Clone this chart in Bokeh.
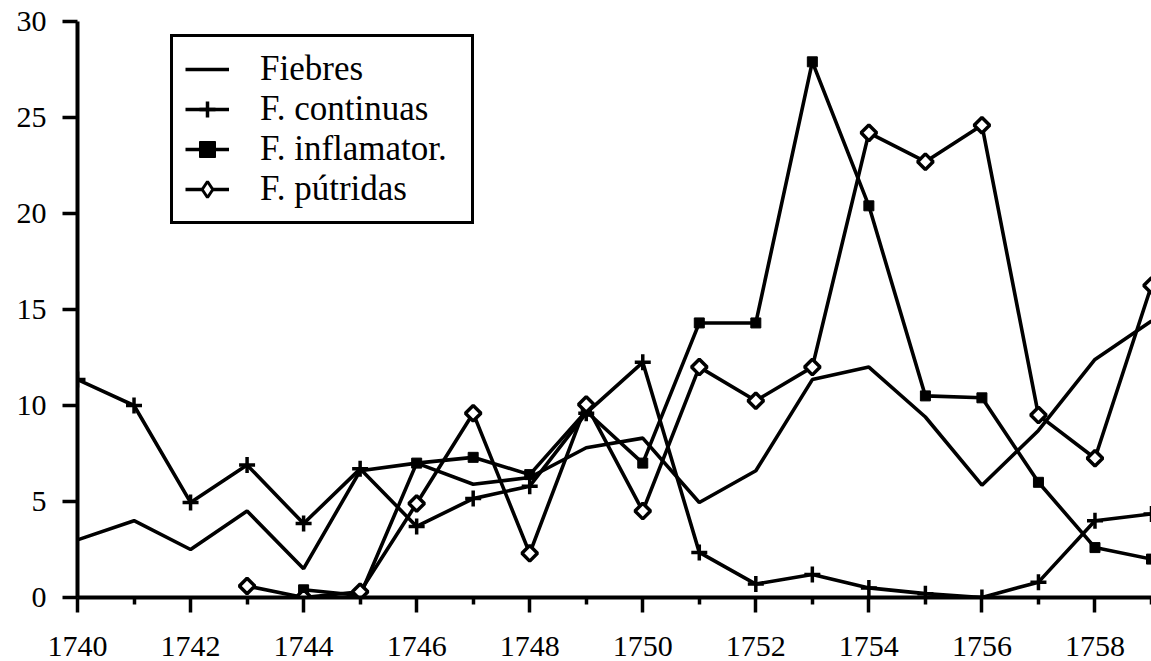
import math
from bokeh.plotting import figure
from bokeh.models import FixedTicker, Legend, LegendItem, Range1d
from bokeh.embed import file_html
from bokeh.resources import INLINE

# ---- data ----
years = list(range(1740, 1760))
fiebres = [3.0, 4.0, 2.5, 4.5, 1.5, 6.6, 7.0, 5.9, 6.25, 7.8,
           8.3, 4.95, 6.6, 11.35, 12.0, 9.4, 5.85, 8.7, 12.4, 14.4]
continuas = [11.35, 10.0, 4.95, 6.9, 3.85, 6.7, 3.7, 5.15, 5.8, 9.6,
             12.25, 2.35, 0.7, 1.2, 0.5, 0.2, 0.0, 0.8, 4.0, 4.35]
inflam_years = list(range(1744, 1760))
inflamator = [0.4, 0.1, 7.0, 7.3, 6.4, 9.7, 7.0, 14.3, 14.3, 27.9,
              20.4, 10.5, 10.4, 6.0, 2.6, 2.0]
putr_years = list(range(1743, 1760))
putridas = [0.6, 0.0, 0.3, 4.9, 9.6, 2.3, 10.05, 4.5, 12.0, 10.25,
            12.0, 24.2, 22.7, 24.6, 9.5, 7.25, 16.25]

x_major = list(range(1740, 1760, 2))
x_minor = list(range(1741, 1760, 2))
y_ticks = [0, 5, 10, 15, 20, 25, 30]

labels = ["Fiebres", "F. continuas", "F. inflamator.", "F. pútridas"]

FONT = "Liberation Serif"

p = figure(width=1151, height=661, output_backend="svg", toolbar_location=None,
           x_range=Range1d(1740, 1759), y_range=Range1d(0, 30),
           min_border_left=77, min_border_right=0, min_border_top=21,
           min_border_bottom=64)
p.outline_line_color = None
p.xgrid.visible = False
p.ygrid.visible = False
p.background_fill_color = "white"
p.border_fill_color = "white"

LW = 3.6
r1 = p.line(years, fiebres, line_color="black", line_width=LW)
r2 = p.line(years, continuas, line_color="black", line_width=LW)
m2 = p.scatter(years, continuas, marker="cross", size=16, line_color="black", line_width=3.5)
r3 = p.line(inflam_years, inflamator, line_color="black", line_width=LW)
m3 = p.scatter(inflam_years, inflamator, marker="square", size=10, fill_color="black",
               line_color="black", line_width=1)
r4 = p.line(putr_years, putridas, line_color="black", line_width=LW)
m4 = p.scatter(putr_years, putridas, marker="square", size=11, angle=math.pi / 4,
               fill_color="white", line_color="black", line_width=3.5)
# same points, drawn only as the legend's diamond sample
m4_leg = p.scatter(putr_years, putridas, marker="diamond", size=15,
                   fill_color="white", line_color="black", line_width=3, visible=False)

# axes
xa = p.xaxis[0]
xa.ticker = FixedTicker(ticks=x_major, minor_ticks=x_minor)
ya = p.yaxis[0]
ya.ticker = FixedTicker(ticks=y_ticks)
for ax in (xa, ya):
    ax.axis_line_width = 4
    ax.axis_line_color = "black"
    ax.major_tick_line_width = 3.5
    ax.major_tick_line_color = "black"
    ax.major_tick_out = 15
    ax.major_tick_in = 0
    ax.minor_tick_line_width = 3.5
    ax.minor_tick_line_color = "black"
    ax.minor_tick_out = 7
    ax.minor_tick_in = 0
    ax.major_label_text_font = FONT
    ax.major_label_text_font_size = "30px"
    ax.major_label_text_color = "black"
ya.minor_tick_line_color = None
xa.major_label_standoff = 24
ya.major_label_standoff = 16

legend = Legend(items=[
    LegendItem(label=labels[0], renderers=[r1]),
    LegendItem(label=labels[1], renderers=[r2, m2]),
    LegendItem(label=labels[2], renderers=[r3, m3]),
    LegendItem(label=labels[3], renderers=[r4, m4_leg]),
], location=(93, 373))
legend.label_text_font = FONT
legend.label_text_font_size = "35px"
legend.label_text_color = "black"
legend.glyph_width = 44
legend.glyph_height = 40
legend.label_height = 40
legend.label_width = 199
legend.label_standoff = 31
legend.spacing = 0
legend.padding = 12
legend.margin = 0
legend.border_line_color = "black"
legend.border_line_alpha = 1
legend.border_line_width = 3
legend.background_fill_color = "white"
legend.background_fill_alpha = 1
p.add_layout(legend, "center")

open("out.html", "w").write(file_html(p, INLINE))
